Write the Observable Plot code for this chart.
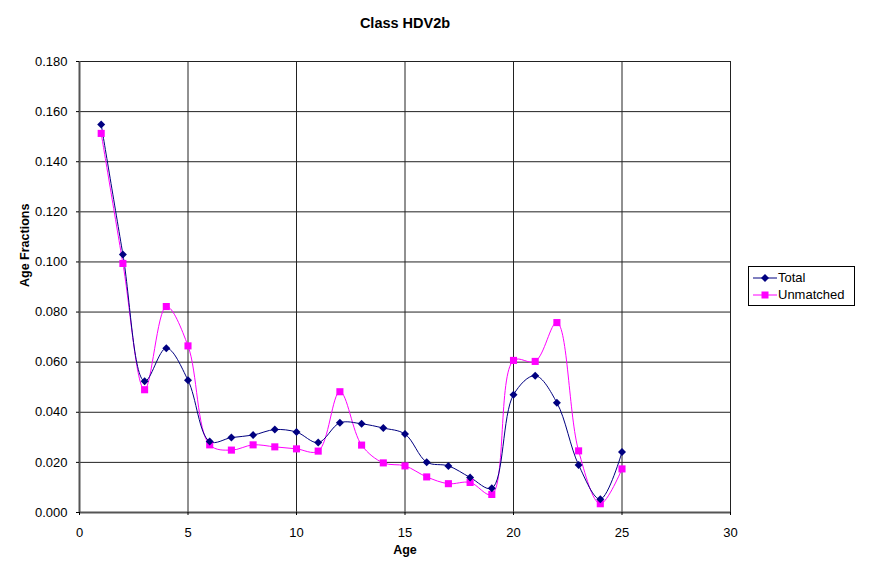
<!DOCTYPE html>
<html><head><meta charset="utf-8">
<script src="https://cdn.jsdelivr.net/npm/d3@7"></script>
<script src="https://cdn.jsdelivr.net/npm/@observablehq/plot@0.6"></script>
<style>
body{margin:0;background:#fff;font-family:"Liberation Sans",Arial,sans-serif;}
#wrap{position:relative;width:869px;height:565px;}
#legend{position:absolute;left:748px;top:266px;width:107px;height:40px;border:1px solid #000;background:#fff;font-size:13px;box-sizing:border-box;padding-top:2px;}
#legend div{display:flex;align-items:center;height:17px;}
#legend svg{margin-left:4px;margin-right:1px;}
</style></head>
<body><div id="wrap"></div>
<script>
const ages = [1,2,3,4,5,6,7,8,9,10,11,12,13,14,15,16,17,18,19,20,21,22,23,24,25];
const total = [0.1549,0.1030,0.0524,0.0656,0.0528,0.0283,0.0299,0.0309,0.0331,0.0321,0.0279,0.0358,0.0354,0.0337,0.0313,0.0201,0.0186,0.0140,0.0097,0.0470,0.0546,0.0438,0.0190,0.0053,0.0241];
const unmatched = [0.1513,0.0994,0.0490,0.0822,0.0665,0.0270,0.0249,0.0270,0.0262,0.0254,0.0245,0.0482,0.0269,0.0198,0.0186,0.0142,0.0115,0.0120,0.0072,0.0607,0.0603,0.0758,0.0246,0.0035,0.0174];
const xTicks = [0,5,10,15,20,25,30];
const yTicks = [0,0.02,0.04,0.06,0.08,0.10,0.12,0.14,0.16,0.18];
const seriesNames = ["Total","Unmatched"];
const colors = ["#000080","#FF00FF"];
const title = "Class HDV2b";
const xLabel = "Age";
const yLabel = "Age Fractions";

const dT = ages.map((a,i)=>({age:a, v:total[i]}));
const dU = ages.map((a,i)=>({age:a, v:unmatched[i]}));

const chart = Plot.plot({
  width: 869, height: 565,
  marginLeft: 79, marginRight: 139, marginTop: 61, marginBottom: 53,
  style: {fontFamily: "'Liberation Sans', Arial, sans-serif", fontSize: "13px", color: "#000", background: "#fff"},
  x: {domain: [0,30]},
  y: {domain: [0,0.18]},
  marks: [
    Plot.ruleY(yTicks, {stroke: "#222", strokeWidth: 1}),
    Plot.ruleX(xTicks, {stroke: "#222", strokeWidth: 1}),
    Plot.ruleX([0], {stroke: "#555", strokeWidth: 2}),
    Plot.ruleY([0], {stroke: "#555", strokeWidth: 2}),
    Plot.axisX({ticks: xTicks, tickSize: 3, tickPadding: 12, label: null, fontSize: 13}),
    Plot.axisY({ticks: yTicks, tickSize: 3, tickPadding: 9, tickFormat: d3.format(".3f"), label: null, fontSize: 13}),
    Plot.line(dU, {x: "age", y: "v", stroke: colors[1], strokeWidth: 1, curve: "catmull-rom"}),
    Plot.line(dT, {x: "age", y: "v", stroke: colors[0], strokeWidth: 1, curve: "catmull-rom"}),
    Plot.dot(dU, {x: "age", y: "v", symbol: "square", r: 4, fill: colors[1], stroke: "none"}),
    Plot.dot(dT, {x: "age", y: "v", symbol: "diamond2", r: 3.6, fill: colors[0], stroke: "none"}),
    Plot.text([title], {frameAnchor: "top", dy: -44, fontWeight: "bold", fontSize: 14.5}),
    Plot.text([xLabel], {frameAnchor: "bottom", dy: 41, fontWeight: "bold", fontSize: 12.5}),
    Plot.text([yLabel], {frameAnchor: "left", dx: -55, rotate: -90, fontWeight: "bold", fontSize: 12.5})
  ]
});
const wrap = document.getElementById("wrap");
wrap.appendChild(chart);

const leg = document.createElement("div");
leg.id = "legend";
seriesNames.forEach((name,i)=>{
  const row = document.createElement("div");
  const shape = i===0
    ? `<polygon points="12,1 16,5 12,9 8,5" fill="${colors[0]}"/>`
    : `<rect x="8.5" y="1.5" width="7" height="7" fill="${colors[1]}"/>`;
  row.innerHTML = `<svg width="24" height="10"><line x1="0" x2="24" y1="5" y2="5" stroke="${colors[i]}" stroke-width="1"/>${shape}</svg><span>${name}</span>`;
  leg.appendChild(row);
});
wrap.appendChild(leg);
</script>
</body></html>
